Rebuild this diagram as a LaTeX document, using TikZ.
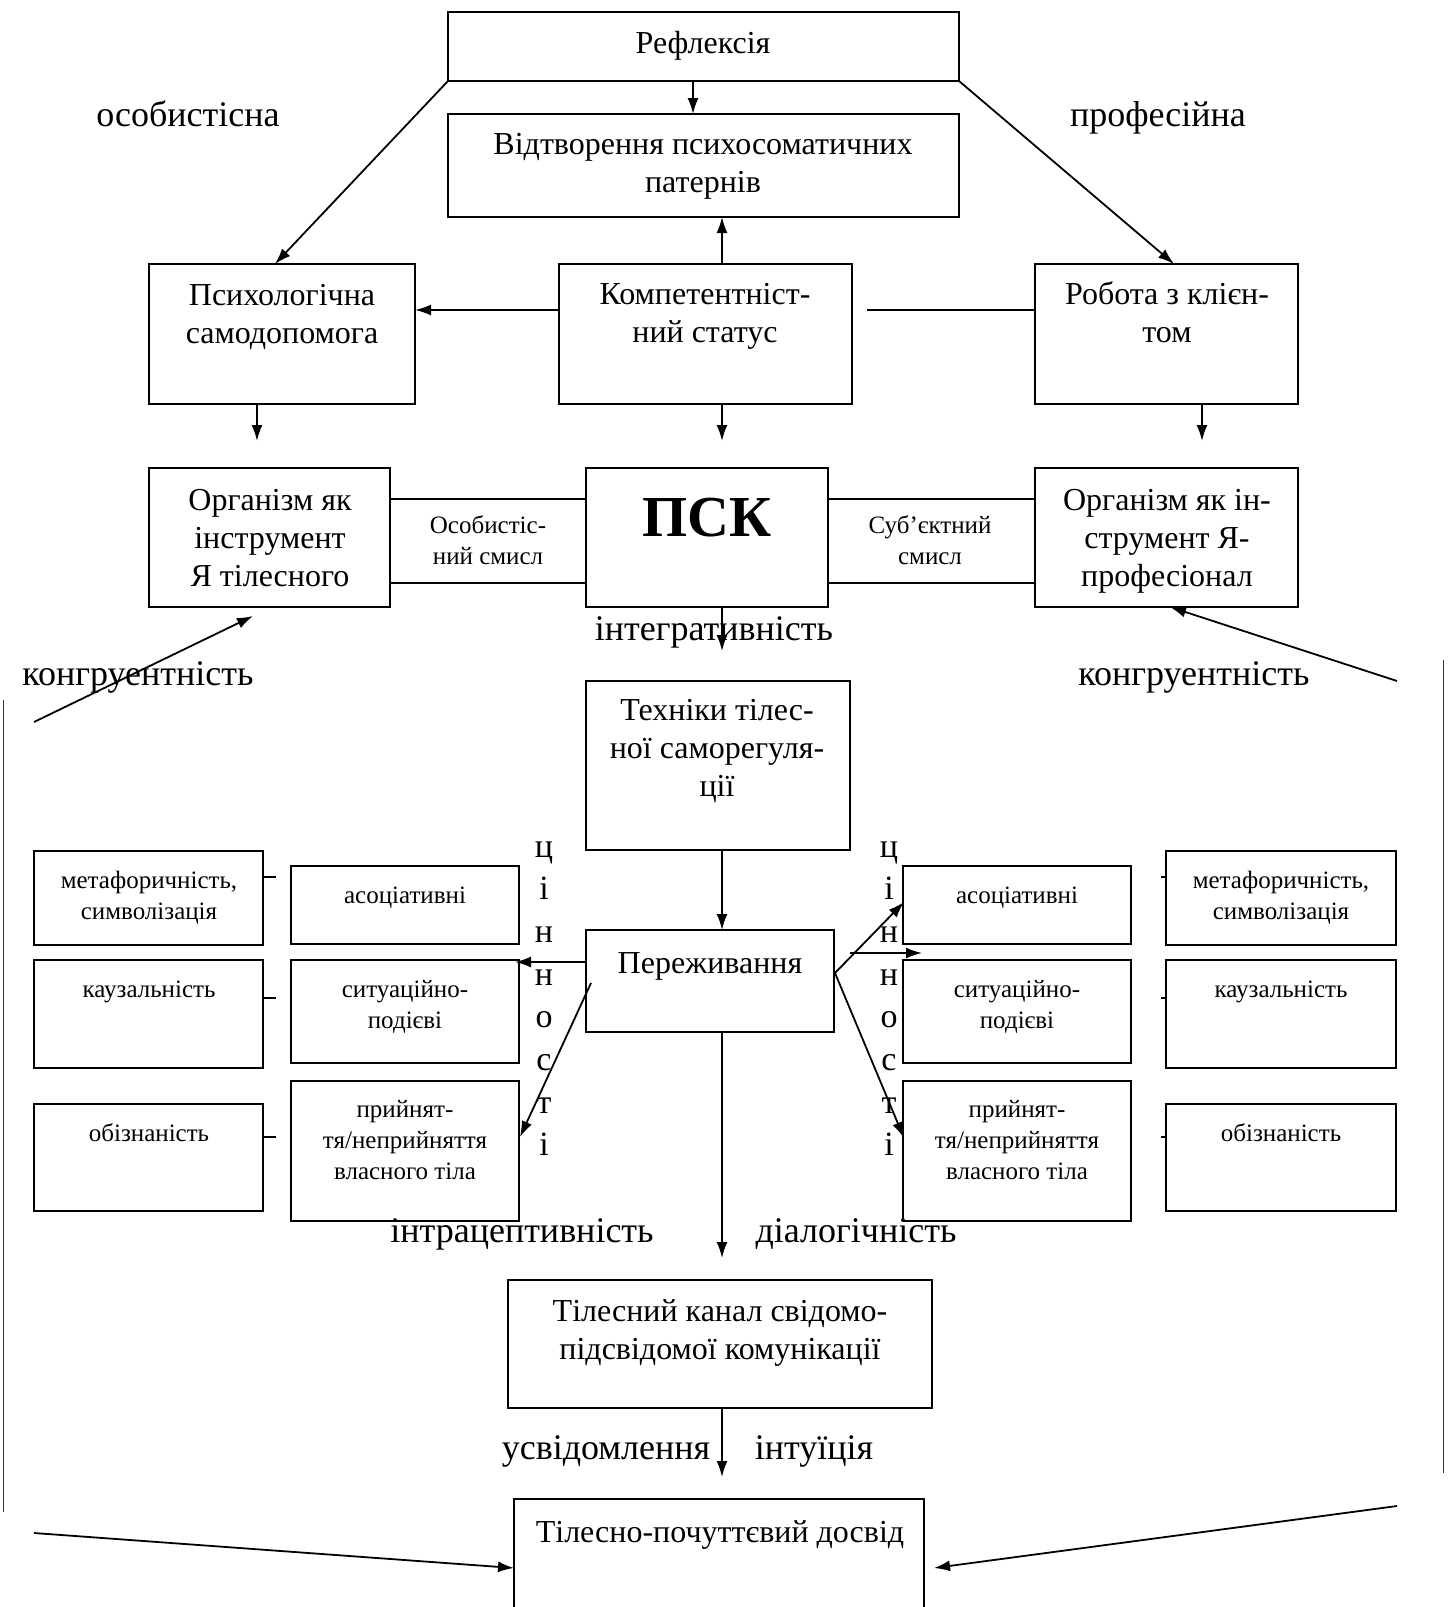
\documentclass[tikz,border=0pt]{standalone}
\usepackage{fontspec}
\setmainfont{Liberation Serif}
\usetikzlibrary{arrows.meta,calc}
\newcommand\mkbox[5]{\node[box, minimum width={(#4-#2)*0.5pt}, minimum height={(#5-#3)*0.5pt}] (#1) at ({(#2+#4)/2},{(#3+#5)/2}) {};}
\begin{document}
\begin{tikzpicture}[x=0.5pt,y=-0.5pt,
  box/.style={draw, line width=1.1pt, inner sep=0pt, outer sep=0pt},
  txt/.style={inner sep=0pt, align=center, font=\fontsize{16}{19}\selectfont},
  lbl/.style={inner sep=0pt, anchor=base, font=\fontsize{18}{21}\selectfont},
  sml/.style={inner sep=0pt, align=center, font=\fontsize{12.5}{15.5}\selectfont},
  vl/.style={inner sep=0pt, anchor=base, font=\fontsize{17}{20}\selectfont},
  arr/.style={line width=0.9pt, -{Latex[length=8pt,width=5.5pt]}},
  ln/.style={line width=0.9pt},
  band/.style={line width=1.1pt},
  edge/.style={line width=0.5pt, draw=black!80}]
\useasboundingbox (0,0) rectangle (1448,1607);
\clip (0,0) rectangle (1448,1607);
% main boxes
\mkbox{refl}{448}{12}{959}{81}
\mkbox{vidt}{448}{114}{959}{217}
\mkbox{psykh}{149}{264}{415}{404}
\mkbox{komp}{559}{264}{852}{404}
\mkbox{rob}{1035}{264}{1298}{404}
\mkbox{orgL}{149}{468}{390}{607}
\mkbox{psk}{586}{468}{828}{607}
\mkbox{orgR}{1035}{468}{1298}{607}
\mkbox{tekh}{586}{681}{850}{850}
\mkbox{perezh}{586}{930}{834}{1032}
\mkbox{kanal}{508}{1280}{932}{1408}
\mkbox{dosvid}{514}{1499}{924}{1640}
% side boxes
\mkbox{L1}{34}{851}{263}{945}
\mkbox{L2}{34}{960}{263}{1068}
\mkbox{L3}{34}{1104}{263}{1211}
\mkbox{M1}{291}{866}{519}{944}
\mkbox{M2}{291}{960}{519}{1063}
\mkbox{M3}{291}{1081}{519}{1221}
\mkbox{N1}{903}{866}{1131}{944}
\mkbox{N2}{903}{960}{1131}{1063}
\mkbox{N3}{903}{1081}{1131}{1221}
\mkbox{R1}{1166}{851}{1396}{945}
\mkbox{R2}{1166}{960}{1396}{1068}
\mkbox{R3}{1166}{1104}{1396}{1211}
% texts
\node[txt] (refl-t) at (703,46) {Рефлексія};
\node[txt] (vidt-t) at (703,166) {Відтворення психосоматичних\\патернів};
\node[txt] (psykh-t) at (282,317) {Психологічна\\самодопомога};
\node[txt] (komp-t) at (705,316) {Компетентніст-\\ний статус};
\node[txt] (rob-t) at (1167,312) {Робота з клієн-\\том};
\node[txt] (orgL-t) at (270,538) {Організм як\\інструмент\\Я тілесного};
\node[txt] (orgR-t) at (1167,541) {Організм як ін-\\струмент Я-\\професіонал};
\node[inner sep=0pt, font=\fontsize{29}{32}\selectfont\bfseries] (psk-t) at (707,518) {ПСК};
\node[sml] (osm-t) at (488,540) {Особистіс-\\ний смисл};
\node[sml] (sub-t) at (930,540) {Суб’єктний\\смисл};
\node[txt] (tekh-t) at (717,751) {Техніки тілес-\\ної саморегуля-\\ції};
\node[txt] (perezh-t) at (710,966) {Переживання};
\node[txt] (kanal-t) at (720,1333) {Тілесний канал свідомо-\\підсвідомої комунікації};
\node[txt] (dosvid-t) at (720,1535) {Тілесно-почуттєвий досвід};
\node[sml] (L1-t) at (149,898) {метафоричність,\\символізація};
\node[sml] (L2-t) at (149,992) {каузальність};
\node[sml] (L3-t) at (149,1133) {обізнаність};
\node[sml] (R1-t) at (1281,898) {метафоричність,\\символізація};
\node[sml] (R2-t) at (1281,992) {каузальність};
\node[sml] (R3-t) at (1281,1133) {обізнаність};
\node[sml] (M1-t) at (405,898) {асоціативні};
\node[sml] (M2-t) at (405,1007) {ситуаційно-\\подієві};
\node[sml] (M3-t) at (405,1140) {прийнят-\\тя/неприйняття\\власного тіла};
\node[sml] (N1-t) at (1017,898) {асоціативні};
\node[sml] (N2-t) at (1017,1007) {ситуаційно-\\подієві};
\node[sml] (N3-t) at (1017,1140) {прийнят-\\тя/неприйняття\\власного тіла};
% labels (baselines)
\node[lbl] (osob) at (188,126) {особистісна};
\node[lbl] (prof) at (1158,126) {професійна};
\node[lbl] (integr) at (714,640) {інтегративність};
\node[lbl] (kongL) at (138,685) {конгруентність};
\node[lbl] (kongR) at (1194,685) {конгруентність};
\node[lbl] (intra) at (522,1242) {інтрацептивність};
\node[lbl] (dialog) at (856,1242) {діалогічність};
\node[lbl] (usvid) at (606,1459) {усвідомлення};
\node[lbl] (intuic) at (814,1459) {інтуїція};
% vertical letters
\foreach \ch [count=\i] in {ц,і,н,н,о,с,т,і}{
  \node[vl] (cl\i) at (544,{857+42.7*(\i-1)}) {\ch};
  \node[vl] (cr\i) at (889,{857+42.7*(\i-1)}) {\ch};
}
% coordinates
\coordinate (c1) at (693,0);
\coordinate (c2) at (722,0);
\coordinate (c3) at (257,0);
\coordinate (c4) at (1202,0);
\coordinate (yk) at (0,310);
\coordinate (ka) at (867,310);
\coordinate (dn1) at (0,441);
\coordinate (dn2) at (0,651);
\coordinate (dn3) at (0,1258);
\coordinate (dn4) at (0,1477);
\coordinate (sL) at (34,722);
\coordinate (eL) at (253,616);
\coordinate (sR) at (1397,681);
\coordinate (eR) at (1170,607);
\coordinate (bL) at (34,1533);
\coordinate (bLe) at (514,1568);
\coordinate (bR) at (1397,1506);
\coordinate (bRe) at (934,1568);
\coordinate (pl) at (586,962);
\coordinate (ple) at (515,962);
\coordinate (pd) at (591,983);
\coordinate (pde) at (520,1137);
\coordinate (pr) at (835,973);
\coordinate (pre1) at (904,902);
\coordinate (pre2) at (904,1138);
\coordinate (ph1) at (850,953);
\coordinate (ph2) at (922,953);
\coordinate (eL1) at (3,700);
\coordinate (eL2) at (3,1512);
\coordinate (eR1) at (1443,660);
\coordinate (eR2) at (1443,1473);
\coordinate (xa) at (275,0);
\coordinate (xb) at (1174,0);
% connectors
\draw[arr] (refl.south -| c1) -- (vidt.north -| c1);
\draw[arr] (refl.south west) -- (psykh.north -| xa);
\draw[arr] (refl.south east) -- (rob.north -| xb);
\draw[arr] (komp.north -| c2) -- (vidt.south -| c2);
\draw[arr] (komp.west |- yk) -- (psykh.east |- yk);
\draw[ln] (ka) -- (rob.west |- ka);
\draw[arr] (psykh.south -| c3) -- (c3 |- dn1);
\draw[arr] (komp.south -| c2) -- (c2 |- dn1);
\draw[arr] (rob.south -| c4) -- (c4 |- dn1);
\draw[band] (orgL.east |- 0,499) -- (psk.west |- 0,499);
\draw[band] (orgL.east |- 0,583) -- (psk.west |- 0,583);
\draw[band] (psk.east |- 0,499) -- (orgR.west |- 0,499);
\draw[band] (psk.east |- 0,583) -- (orgR.west |- 0,583);
\draw[arr] (psk.south -| c2) -- (c2 |- dn2);
\draw[arr] (sL) -- (eL);
\draw[arr] (sR) -- (eR);
\draw[arr] (tekh.south -| c2) -- (perezh.north -| c2);
\draw[arr] (pl) -- (ple);
\draw[arr] (pd) -- (pde);
\draw[arr] (pr) -- (pre1);
\draw[arr] (pr) -- (pre2);
\draw[arr] (ph1) -- (ph2);
\draw[arr] (perezh.south -| c2) -- (c2 |- dn3);
\draw[arr] (kanal.south -| c2) -- (c2 |- dn4);
\draw[arr] (bL) -- (bLe);
\draw[arr] (bR) -- (bRe);
\draw[edge] (eL1) -- (eL2);
\draw[edge] (eR1) -- (eR2);
% small ticks
\foreach \a/\y in {L1/877,L2/998,L3/1137}{
  \draw[band] (\a.east |- 0,\y) -- ++(13,0);
}
\foreach \a/\y in {R1/877,R2/998,R3/1137}{
  \draw[band] (\a.west |- 0,\y) -- ++(-5,0);
}
\end{tikzpicture}
\end{document}
